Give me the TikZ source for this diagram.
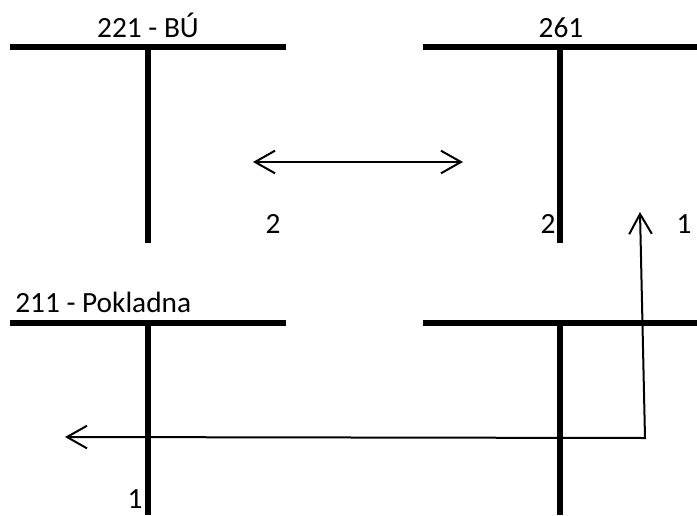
\documentclass[tikz,border=0pt]{standalone}
\usepackage{fontspec}
\setmainfont{Carlito}
\usetikzlibrary{arrows.meta}

\tikzset{
  ucet/.style={line width=4.5pt},
  sipka/.style={line width=1.5pt,>={Straight Barb[length=15pt,width=17pt]}},
  popis/.style={font=\fontsize{22}{26}\selectfont,inner sep=0pt,anchor=base},
}

\begin{document}
\begin{tikzpicture}[x=0.75pt,y=-0.75pt]
\useasboundingbox (0,0) rectangle (697,515);
% ucet 221 - BU
\draw[ucet] (10,47)--(286,47);
\draw[ucet] (148,47)--(148,243);
\node[popis] (bu) at (148,37) {221 - BÚ};
% ucet 261
\draw[ucet] (423,47)--(697,47);
\draw[ucet] (560,47)--(560,243);
\node[popis] (penize) at (561,37) {261};
% ucet 211 - Pokladna
\draw[ucet] (10,323)--(286,323);
\draw[ucet] (148,323)--(148,515);
\node[popis,anchor=base west] (pokladna) at (15,312) {211 - Pokladna};
% protiucet
\draw[ucet] (423,323)--(697,323);
\draw[ucet] (560,323)--(560,515);
% cisla operaci
\node[popis] (op2a) at (273,233) {2};
\node[popis] (op2b) at (548,233) {2};
\node[popis] (op1a) at (684,233) {1};
\node[popis] (op1b) at (135,508) {1};
% sipky
\coordinate (bu-vpravo) at (253,162);
\coordinate (penize-vlevo) at (463,162);
\coordinate (roh) at (645,438);
\coordinate (nahoru) at (640,212);
\coordinate (doleva) at (65,437);
\draw[sipka,<->] (bu-vpravo)--(penize-vlevo);
\draw[sipka,<->] (doleva)--(roh)--(nahoru);
\end{tikzpicture}
\end{document}
